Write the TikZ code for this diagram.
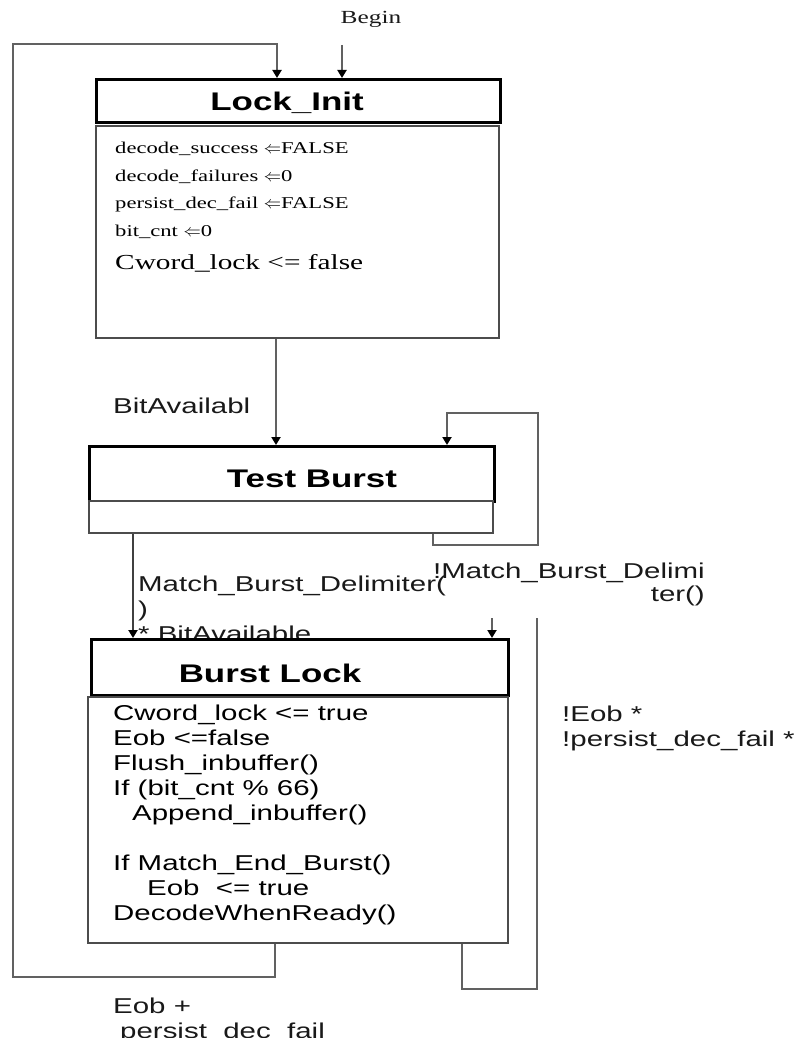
\documentclass[tikz,border=0pt]{standalone}
\usepackage{fontspec}
\usetikzlibrary{arrows.meta}
\newfontfamily\sfw[FakeStretch=1.37]{Liberation Sans}
\newfontfamily\rmw[FakeStretch=1.37]{Liberation Serif}
\begin{document}
\begin{tikzpicture}[x=1pt,y=-1pt,
  hdr/.style={draw=black,line width=3.2pt,fill=white,inner sep=0pt,anchor=north west},
  bdy/.style={draw=black!70,line width=2pt,fill=white,inner sep=0pt,anchor=north west},
  conn/.style={draw=black!62,line width=2pt},
  arr/.style={-{Triangle[width=9pt,length=8pt,color=black]}},
  lbl/.style={font=\sfw\fontsize{21.5}{25}\selectfont,inner sep=0pt,text=black!90,align=left},
  ttl/.style={font=\sfw\bfseries\fontsize{25.5}{30}\selectfont,inner sep=0pt,anchor=base},
  code/.style={font=\sfw\fontsize{21.5}{25}\selectfont,inner sep=0pt,align=left,anchor=base west},
  serif/.style={font=\rmw\fontsize{16.5}{27.5}\selectfont,inner sep=0pt,align=left,anchor=base west}]

\useasboundingbox (0,0) rectangle (796,1038);

% ---------- Lock_Init ----------
\node[hdr,minimum width=404pt,minimum height=43pt] (lih) at (95,78) {};
\node[bdy,minimum width=403pt,minimum height=212pt] (lib) at (95,125) {};
\node[ttl] (lit) at (287,111) {Lock\_Init};
% base anchor = baseline of the last line
\node[serif] (lic) at (115,269) {decode\_success $\Leftarrow$FALSE\\
  decode\_failures $\Leftarrow$0\\
  persist\_dec\_fail $\Leftarrow$FALSE\\
  bit\_cnt $\Leftarrow$0\\[5.5pt]
  {\fontsize{21.4}{27.5}\selectfont Cword\_lock <= false}};

% ---------- Test Burst ----------
\node[hdr,minimum width=405pt,minimum height=55pt] (tbh) at (88,445) {};
\node[bdy,minimum width=404pt,minimum height=32pt] (tbb) at (88,500) {};
\node[ttl] (tbt) at (312,487) {Test Burst};

% ---------- labels ----------
\node[lbl,anchor=base] (lbegin) at (371,24) {\rmw\fontsize{18.5}{22}\selectfont Begin};
\node[lbl,anchor=base west] (lbit) at (113,413) {BitAvailabl};
\node[lbl,anchor=base west] (lmatch) at (138,641) {Match\_Burst\_Delimiter(\\)\\* BitAvailable};
\node[lbl,anchor=base east,align=right,font=\sfw\fontsize{21.5}{23}\selectfont] (lnomatch) at (705,601) {!Match\_Burst\_Delimi\\ter()};
\node[lbl,anchor=base west] (lnoeob) at (562,746) {!Eob *\\!persist\_dec\_fail *};
\node[lbl,anchor=base west] (leob) at (113,1038) {Eob +\\\hspace*{7pt}persist\_dec\_fail};

% ---------- Burst Lock ----------
\node[hdr,minimum width=417pt,minimum height=56pt] (blh) at (90,638) {};
\node[bdy,minimum width=420pt,minimum height=246pt] (blb) at (87,696) {};
\node[ttl] (blt) at (270,682) {Burst Lock};
\node[code] (blc) at (113,920.5) {Cword\_lock <= true\\
  Eob <=false\\
  Flush\_inbuffer()\\
  If (bit\_cnt \% 66)\\
  \hspace*{19pt}Append\_inbuffer()\\[25pt]
  If Match\_End\_Burst()\\
  \hspace*{34pt}Eob\ \ <= true\\
  DecodeWhenReady()};

% ---------- connectors ----------
\coordinate (beginpt) at (342,45);
\draw[conn,arr] (beginpt) -- (beginpt |- lih.north);
\draw[conn,arr] ([xshift=188pt]blb.south west) -- ++(0,33) -| (13,44) -| ([xshift=182pt]lih.north west);
\draw[conn,arr] ([xshift=181pt]lib.south west) -- ([xshift=188pt]tbh.north west);
\draw[conn,arr] ([xshift=345pt]tbb.south west) -- ++(0,11) -| (538,413) -| ([xshift=359pt]tbh.north west);
\draw[conn,arr,draw=black!75,line width=2.4pt] ([xshift=45pt]tbb.south west) -- ([xshift=43pt]blh.north west);
\coordinate (blloop) at (537,618);
\coordinate (blentry) at (492,618);
\draw[conn] ([xshift=375pt]blb.south west) -- ++(0,45) -| (blloop);
\draw[conn,arr] (blentry) -- (blentry |- blh.north);
\end{tikzpicture}
\end{document}
